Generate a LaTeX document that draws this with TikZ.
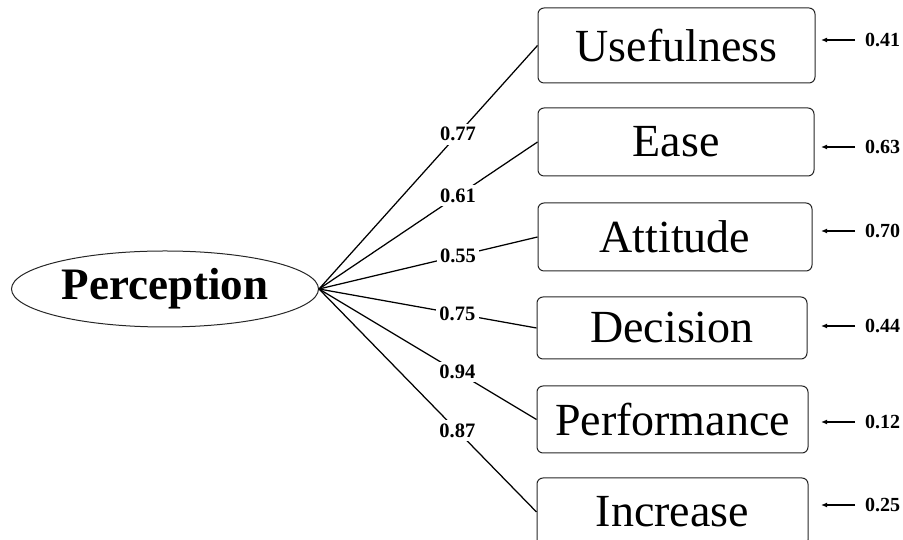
\documentclass[tikz,border=0pt]{standalone}
\usepackage{fontspec}
\setmainfont{Liberation Serif}
\usetikzlibrary{shapes.geometric,arrows.meta}
\tikzset{
  obsbox/.style={draw=black!85, line width=1pt, rounded corners=6pt, inner sep=0pt,
    font=\fontsize{46}{50}\selectfont},
  latent/.style={draw=black!85, line width=1pt, ellipse, inner sep=0pt,
    minimum width=307pt, minimum height=76pt, font=\fontsize{45}{49}\selectfont\bfseries},
  path/.style={line width=1.25pt, black},
  coef/.style={fill=white, inner sep=3.5pt, font=\fontsize{20.5}{22}\selectfont\bfseries},
  errlab/.style={anchor=west, inner xsep=10pt, inner ysep=0pt, font=\fontsize{20}{22}\selectfont\bfseries},
  errarrow/.style={line width=1.2pt, -{Latex[length=6pt,width=5pt]}}
}
\begin{document}
\begin{tikzpicture}[x=1pt,y=1pt]
\useasboundingbox (0,0) rectangle (903,540);
\node[latent] (per) at (165,251) {Perception};

\node[obsbox, minimum width=277pt, minimum height=75pt] (u) at (676.5,494.5) {Usefulness};
\node[obsbox, minimum width=276pt, minimum height=68pt] (e) at (676,398) {Ease};
\node[obsbox, minimum width=274pt, minimum height=68pt] (a) at (675,303) {Attitude};
\node[obsbox, minimum width=270pt, minimum height=62pt] (d) at (672,212) {Decision};
\node[obsbox, minimum width=271pt, minimum height=67pt] (p) at (672.5,120.5) {Performance};
\node[obsbox, minimum width=271pt, minimum height=68pt] (i) at (672.5,28) {Increase};

\draw[path] (per.east) -- node[coef, pos=0.636] (cu) {0.77} (u.west);
\draw[path] (per.east) -- node[coef, pos=0.636] (ce) {0.61} (e.west);
\draw[path] (per.east) -- node[coef, pos=0.636] (ca) {0.55} (a.west);
\draw[path] (per.east) -- node[coef, pos=0.636] (cd) {0.75} (d.west);
\draw[path] (per.east) -- node[coef, pos=0.636] (cp) {0.94} (p.west);
\draw[path] (per.east) -- node[coef, pos=0.636] (ci) {0.87} (i.west);

\node[errlab] (ru) at (855,500) {0.41};
\node[errlab] (re) at (855,393) {0.63};
\node[errlab] (ra) at (855,309) {0.70};
\node[errlab] (rd) at (855,214) {0.44};
\node[errlab] (rp) at (855,118) {0.12};
\node[errlab] (ri) at (855,35) {0.25};

\coordinate (tu) at (821,500);
\coordinate (te) at (821,393);
\coordinate (ta) at (821,309);
\coordinate (td) at (821,214);
\coordinate (tp) at (821,118);
\coordinate (ti) at (821,35);

\draw[errarrow] (ru.west) -- (tu);
\draw[errarrow] (re.west) -- (te);
\draw[errarrow] (ra.west) -- (ta);
\draw[errarrow] (rd.west) -- (td);
\draw[errarrow] (rp.west) -- (tp);
\draw[errarrow] (ri.west) -- (ti);
\end{tikzpicture}
\end{document}
